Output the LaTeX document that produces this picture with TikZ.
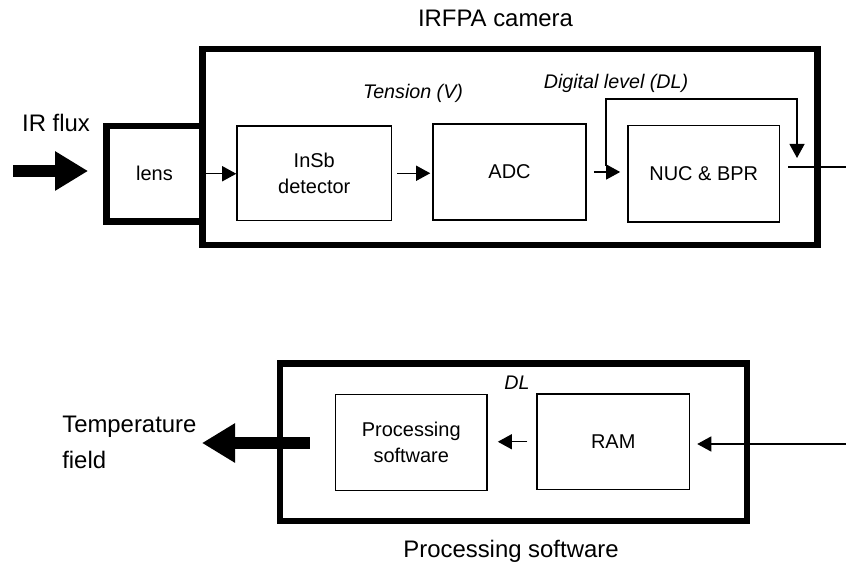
\documentclass[tikz,border=0pt]{standalone}
\usepackage{fontspec}
\setmainfont{Liberation Sans}
\usetikzlibrary{arrows.meta}
\begin{document}
\begin{tikzpicture}[x=0.25mm, y=-0.25mm,
            blk/.style={draw=black, line width=1.1pt, inner sep=0pt, align=center,
            font=\fontsize{14.2}{18.8}\selectfont},
            frm/.style={draw=black, line width=4.6pt, inner sep=0pt},
            lab/.style={inner sep=0pt, font=\fontsize{17}{24.9}\selectfont},
            sig/.style={inner sep=0pt, font=\fontsize{14}{17}\selectfont\itshape},
            arr/.style={line width=0.9pt, -{Triangle[length=10pt,width=10.7pt]}},
            fat/.style={line width=9pt, -{Triangle[length=23.5pt,width=26.5pt]}}]
            \useasboundingbox (0,0) rectangle (846,566);

            \node[frm, minimum width=153.75mm, minimum height=49mm] (camera) at (510,147) {};
            \node[frm, minimum width=24mm, minimum height=23.9mm] (lens) at (154.5,173.75) {};
            \node[blk, minimum width=38.6mm, minimum height=23.6mm] (insb) at (314.25,173.25) {InSb\\detector};
            \node[blk, minimum width=38.25mm, minimum height=24mm] (adc) at (509.5,172) {ADC};
            \node[blk, minimum width=37.9mm, minimum height=24.1mm] (nuc) at (703.75,173.75) {NUC \& BPR};
            \node[blk, draw=none] (lenslab) at (lens) {lens};

            \node[frm, minimum width=116.75mm, minimum height=39.4mm] (soft) at (513.5,442.25) {};
            \node[blk, minimum width=37.9mm, minimum height=24mm] (psw) at (411.25,442.5) {Processing\\software};
            \node[blk, minimum width=38.1mm, minimum height=23.9mm] (ram) at (613.25,441.75) {RAM};

            \node[lab, anchor=base] (title) at (495.5,27) {IRFPA camera};
            \node[lab, anchor=base] (flux) at (56,132) {IR flux};
            \node[sig, anchor=base] (tension) at (413,99) {Tension (V)};
            \node[sig, anchor=base] (dlevel) at (616,89) {Digital level (DL)};
            \node[sig, anchor=base] (dl) at (517,389) {DL};
            \node[lab, anchor=base] (stitle) at (511,557) {Processing software};
            \node[lab, anchor=base west, align=left] (temp) at (62,468) {Temperature\\field};

            \coordinate (irin) at (13,171);
            \coordinate (tap) at (606,166);
            \coordinate (dlup) at (797,99);
            \coordinate (fbin) at (797,158);
            \coordinate (out) at (846,167);
            \coordinate (in) at (846,444);
            \coordinate (tfield) at (202,443);

            \draw[fat, shorten >=3.8mm] (irin) to (irin -| lens.west);
            \draw[arr] (lens.east) to (lens.east -| insb.west);
            \draw[arr, shorten <=1.25mm, shorten >=0.5mm] (insb.east) to (insb.east -| adc.west);
            \draw[arr, shorten <=1.75mm, shorten >=1.75mm] (adc.east) to (adc.east -| nuc.west);
            \draw[arr] (tap) |- (dlup) to (fbin);
            \draw[line width=0.9pt, shorten <=2mm] (nuc.east |- out) to (out);

            \draw[arr, shorten >=1.75mm] (in) to (in -| ram.east);
            \draw[arr, shorten <=2.25mm, shorten >=2.5mm] (ram.west) to (ram.west -| psw.east);
            \draw[fat] ([xshift=-6.2mm]psw.west |- tfield) to (tfield);
        \end{tikzpicture}
\end{document}
